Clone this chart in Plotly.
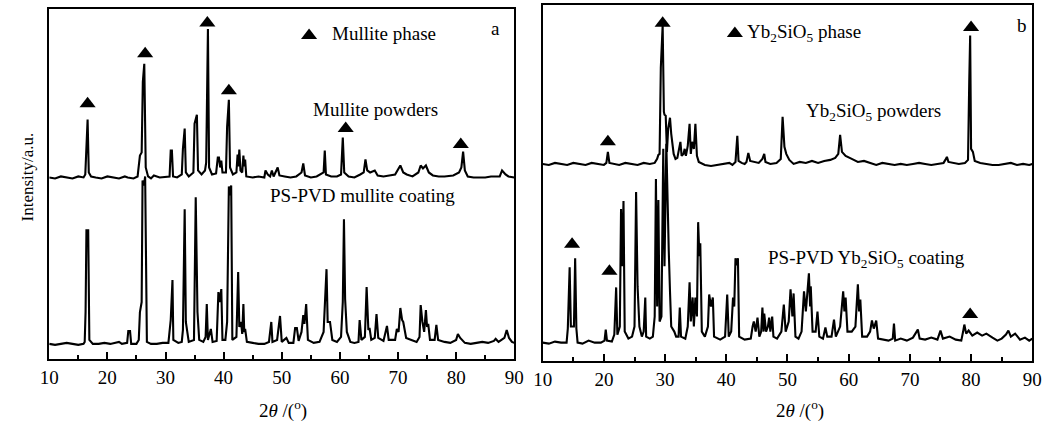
import plotly.graph_objects as go

# ---------------- Panel a : mullite ----------------
a_powder_x = [10, 11, 12, 13, 14, 15, 15.9, 16.2, 16.4, 16.6, 16.8, 17.2, 18, 19, 20, 21, 22, 23, 23.5, 24.5,
              25.2, 25.6, 25.9, 26.1, 26.35, 26.6, 27, 27.5, 28, 29, 30, 30.7, 30.9, 31.1, 31.3, 32, 32.8, 33.0,
              33.3, 33.5, 34, 34.8, 35.0, 35.4, 35.6, 36.2, 36.8, 37.0, 37.3, 37.5, 38, 38.7, 39.0, 39.2, 39.4,
              39.6, 39.8, 40.4, 40.6, 40.9, 41.1, 41.6, 42.2, 42.4, 42.55, 42.7, 42.9, 43.2, 43.4, 43.55, 43.7,
              43.9, 45, 46, 47, 47.2, 47.6, 48, 48.3, 48.6, 49.3, 49.6, 50.5, 51.5, 52.5, 53.4, 53.7, 54, 55, 56,
              57.2, 57.4, 57.6, 58.5, 59.5, 60.2, 60.5, 60.75, 61.5, 62.5, 63.5, 64.1, 64.4, 64.7, 65.2, 66, 66.5,
              67.5, 68.5, 69.5, 70.4, 70.9, 71.5, 72.5, 73.5, 73.9, 74.3, 74.8, 75.3, 76, 77, 78, 79.5, 80.5, 80.9,
              81.2, 81.5, 82, 83, 84, 85, 86, 87.5, 87.9, 88.5, 89, 90]
a_powder_y = [185, 184, 186, 185, 184, 186, 185, 188, 222, 243, 190, 186, 185, 184, 186, 185, 184, 186, 185, 184,
              186, 207, 210, 281, 299, 195, 186, 184, 187, 185, 186, 186, 212, 212, 186, 185, 188, 214,
              234, 190, 186, 190, 239, 248, 192, 188, 192, 200, 334, 195, 188, 189, 205, 205, 195,
              202, 190, 190, 236, 263, 195, 188, 190, 208, 196, 213, 192, 190, 207, 196, 203,
              186, 185, 186, 185, 192, 188, 186, 192, 186, 195, 187, 186, 185, 186, 190, 199, 187, 185, 186,
              190, 212, 188, 186, 186, 188, 225, 190, 186, 185, 188, 190, 203, 192, 190, 192, 187,
              186, 187, 188, 197, 190, 188, 186, 190, 197, 194, 197, 190, 187, 186, 186, 187, 190, 195,
              211, 192, 186, 185, 185, 185, 186, 186, 192, 188, 186, 185]

a_coat_x = [10, 11, 12, 13, 14, 15, 15.9, 16.1, 16.25, 16.4, 16.55, 16.7, 16.9, 17.5, 18.5, 19.5, 20.5, 21.5, 22,
            22.5, 23.4, 23.6, 23.9, 24.1, 25, 25.4, 25.6, 25.9, 26.05, 26.3, 26.5, 26.8, 27.5, 28.5, 29.5, 30.5,
            30.9, 31.2, 31.35, 32.2, 32.8, 33.0, 33.3, 33.5, 34, 34.9, 35.2, 35.5, 35.8, 36.5, 36.9, 37.1, 37.3,
            37.8, 38.1, 38.8, 39.1, 39.3, 39.6, 39.8, 40.3, 40.6, 40.9, 41.1, 41.3, 41.5, 42.2, 42.5, 42.7, 43.0,
            43.2, 43.4, 43.55, 43.7, 44, 45, 46, 47, 47.8, 48.2, 48.4, 49.2, 49.7, 50, 50.8, 51.2, 52, 52.3, 52.6,
            52.9, 53.4, 53.7, 53.9, 54.2, 54.5, 55.5, 56.5, 57.2, 57.4, 57.7, 57.9, 58.3, 58.7, 59.5, 60.2, 60.5,
            60.7, 60.9, 61.2, 61.8, 62.5, 63.2, 63.4, 63.7, 64.3, 64.6, 64.9, 65.1, 65.4, 66.0, 66.3, 66.6, 67.5,
            68.1, 68.4, 69.5, 69.8, 70.1, 70.4, 70.7, 70.9, 71.4, 72.3, 73.2, 73.7, 73.9, 74.2, 74.5, 74.8, 75.0,
            75.2, 75.5, 76.3, 76.6, 76.9, 78, 79, 80, 80.3, 80.7, 81.5, 82.5, 83.5, 84.5, 85.5, 86.5, 86.8, 87.3,
            88.3, 88.7, 89.1, 89.6, 90]
a_coat_y = [18, 17, 18, 19, 18, 17, 18, 20, 50, 133, 127, 133, 22, 18, 18, 19, 18, 19, 20,
            18, 19, 31, 31, 18, 18, 22, 50, 60, 182, 177, 186, 20, 18, 18, 19, 19,
            42, 82, 22, 19, 20, 32, 153, 40, 20, 22, 165, 50, 22, 20, 25, 58, 22,
            33, 20, 21, 70, 60, 73, 22, 22, 40, 176, 167, 177, 22, 25, 90, 35, 40,
            28, 58, 30, 33, 20, 19, 18, 18, 20, 40, 20, 22, 46, 20, 24, 19, 19, 34, 34,
            21, 30, 47, 38, 58, 22, 19, 20, 30, 58, 93, 40, 40, 22, 20, 25, 60,
            143, 63, 30, 20, 19, 20, 42, 22, 25, 75, 32, 34, 22, 24, 48, 24, 21,
            36, 22, 22, 33, 30, 54, 42, 40, 24, 22, 20, 25, 57, 40, 30, 52, 35,
            38, 22, 22, 37, 22, 20, 19, 22, 28, 24, 19, 18, 19, 20, 19, 21, 23, 20,
            24, 32, 24, 20, 19]

a_tri_powder_x = [16.6, 26.5, 37.2, 40.9, 61.0, 80.8]
a_tri_powder_y = [259, 309, 340, 272, 234, 218]

# ---------------- Panel b : Yb2SiO5 ----------------
b_powder_x = [10, 11, 12, 13, 14, 15, 16, 17, 18, 19, 20, 20.4, 20.65, 20.9, 21.5, 22.5, 23.5, 24.5, 25.5, 26.5,
              27.5, 28.3, 28.7, 28.9, 29.1, 29.3, 29.6, 29.8, 29.9, 30.1, 30.3, 30.5, 30.8, 31.0, 31.2, 31.4, 31.7,
              32.0, 32.5, 32.7, 33.0, 33.2, 33.4, 33.7, 34.0, 34.2, 34.4, 34.7, 34.95, 35.2, 35.5, 36.5, 37.5,
              38.5, 39.5, 40.5, 41.0, 41.5, 41.8, 42.0, 42.5, 43.0, 43.3, 43.6, 43.9, 44.8, 45.3, 45.9, 46.2, 46.4,
              47.2, 48.2, 48.9, 49.2, 49.5, 49.8, 50.3, 51.0, 52, 53, 54, 55, 56, 57, 57.8, 58.3, 58.6, 58.9, 59.5,
              60.5, 61.5, 62.5, 63.5, 64.5, 65.5, 66.5, 67.5, 68.5, 69.5, 70.5, 71.5, 72.5, 73.5, 74.5, 75.5, 75.8,
              76.05, 76.3, 77, 78, 79.0, 79.5, 79.7, 79.85, 80.0, 80.3, 80.6, 81.5, 82.5, 83.5, 84.5, 85.5, 86.5,
              87.5, 88.5, 89.5, 90]
b_powder_y = [200, 199, 201, 200, 199, 201, 200, 199, 201, 200, 199, 201, 212, 201, 200, 199, 201, 200, 199, 201,
              200, 201, 205, 209, 210, 296, 338, 252, 249, 248, 212, 235, 246, 230, 219, 210, 205,
              206, 222, 208, 210, 215, 208, 218, 240, 210, 222, 215, 240, 208, 202, 199, 198,
              199, 200, 201, 199, 202, 228, 203, 201, 200, 202, 211, 203, 202, 201, 205, 210, 202,
              200, 201, 205, 247, 217, 210, 204, 200, 202, 201, 203, 201, 203, 204, 206, 210, 229, 212, 208,
              205, 202, 203, 201, 199, 201, 200, 199, 200, 199, 200, 201, 200, 199, 200, 201, 204,
              207, 202, 201, 200, 201, 204, 282, 328, 215, 212, 203, 201, 200, 199, 199, 200, 201,
              199, 200, 199, 200]

b_coat_x = [10, 11, 12, 13, 13.9, 14.1, 14.4, 14.6, 15.1, 15.3, 15.5, 15.7, 16.5, 17.5, 18.5, 19.5, 20.1, 20.3,
            20.5, 21.3, 21.7, 22.0, 22.2, 22.6, 22.8, 23.0, 23.2, 23.4, 24, 24.6, 25.0, 25.26, 25.5, 25.8, 26.2,
            26.5, 26.76, 26.9, 27.5, 28.0, 28.3, 28.5, 28.7, 28.9, 29.1, 29.4, 29.7, 29.9, 30.2, 30.5, 30.6, 30.8,
            31.0, 31.5, 31.8, 32.2, 32.4, 32.6, 33.3, 33.7, 34.0, 34.2, 34.5, 34.7, 34.95, 35.2, 35.4, 35.6,
            35.75, 36.0, 36.5, 37.0, 37.2, 37.5, 37.8, 38.0, 39.0, 39.8, 40.15, 40.4, 40.8, 41.1, 41.3, 41.5,
            41.7, 41.9, 42.1, 43.0, 44.0, 44.3, 44.5, 44.8, 45.1, 45.4, 45.7, 45.9, 46.1, 46.2, 46.5, 46.8, 47.0,
            47.2, 47.5, 47.7, 48.3, 49.0, 49.4, 49.7, 50.2, 50.5, 50.8, 51.0, 51.3, 51.8, 52.3, 52.7, 53.0, 53.2,
            53.5, 53.7, 53.8, 54.1, 54.6, 54.9, 55.2, 55.8, 56.2, 56.5, 57.2, 57.6, 57.9, 58.6, 59.1, 59.3, 59.5,
            59.8, 60.5, 61.1, 61.5, 61.7, 61.9, 62.2, 63.0, 63.5, 63.8, 64.1, 64.5, 64.8, 65.5, 66.5, 67.2, 67.4,
            67.6, 68.5, 69.5, 70.5, 71.3, 71.6, 72.5, 73.5, 74.5, 75.0, 75.4, 76.5, 77.5, 78.4, 78.7, 78.9, 79.2,
            79.6, 80.2, 81.0, 81.8, 82.5, 83.5, 84.3, 85.0, 85.7, 86.1, 86.5, 87.2, 88.0, 88.8, 89.5, 90]
b_coat_y = [22, 21, 23, 22, 22, 36, 97, 38, 38, 106, 36, 22, 21, 24, 22, 22, 24, 35,
            24, 23, 30, 77, 30, 38, 155, 98, 163, 33, 26, 28, 38, 172, 78, 38, 28,
            33, 67, 28, 26, 28, 48, 185, 58, 164, 43, 48, 215, 98, 220, 118, 113, 73,
            38, 33, 28, 28, 57, 28, 26, 38, 82, 43, 67, 38, 67, 48, 142, 108,
            121, 33, 28, 38, 70, 58, 67, 28, 25, 28, 70, 28, 33, 67, 58, 106,
            99, 106, 28, 25, 26, 38, 43, 33, 47, 28, 33, 57, 33, 51, 33, 38, 47,
            33, 48, 28, 26, 33, 60, 33, 43, 75, 48, 71, 28, 26, 33, 73, 53, 68,
            91, 58, 78, 33, 33, 53, 28, 26, 37, 28, 28, 45, 28, 38, 73, 53, 67,
            33, 33, 38, 80, 53, 65, 28, 28, 33, 44, 36, 44, 26, 25, 24, 26, 41,
            24, 26, 24, 27, 35, 26, 25, 27, 25, 34, 26, 28, 25, 24, 33, 40, 31,
            34, 29, 32, 29, 31, 27, 24, 26, 30, 34, 28, 31, 25, 27, 24, 26]

b_tri_powder_x = [20.65, 29.6, 80.0]
b_tri_powder_y = [222, 340, 336]
b_tri_coat_x = [14.8, 20.9, 79.85]
b_tri_coat_y = [120, 93, 50]

x_ticks = [10, 20, 30, 40, 50, 60, 70, 80, 90]

FONT = "Liberation Serif"
LINE = dict(color="black", width=2.1)
TRI = dict(symbol="triangle-up", size=14, color="black")

fig = go.Figure()
fig.add_trace(go.Scatter(x=a_powder_x, y=a_powder_y, mode="lines", line=LINE, xaxis="x", yaxis="y"))
fig.add_trace(go.Scatter(x=a_coat_x, y=a_coat_y, mode="lines", line=LINE, xaxis="x", yaxis="y"))
fig.add_trace(go.Scatter(x=a_tri_powder_x, y=a_tri_powder_y, mode="markers", marker=TRI, xaxis="x", yaxis="y"))
fig.add_trace(go.Scatter(x=[54.7], y=[327.5], mode="markers", marker=TRI, xaxis="x", yaxis="y"))

fig.add_trace(go.Scatter(x=b_powder_x, y=b_powder_y, mode="lines", line=LINE, xaxis="x2", yaxis="y2"))
fig.add_trace(go.Scatter(x=b_coat_x, y=b_coat_y, mode="lines", line=LINE, xaxis="x2", yaxis="y2"))
fig.add_trace(go.Scatter(x=b_tri_powder_x, y=b_tri_powder_y, mode="markers", marker=TRI, xaxis="x2", yaxis="y2"))
fig.add_trace(go.Scatter(x=b_tri_coat_x, y=b_tri_coat_y, mode="markers", marker=TRI, xaxis="x2", yaxis="y2"))
fig.add_trace(go.Scatter(x=[41.4], y=[330], mode="markers", marker=TRI, xaxis="x2", yaxis="y2"))

W, H = 1056, 421


def xax(d0, d1, anchor):
    return dict(domain=[d0 / W, d1 / W], range=[10, 90], tickvals=x_ticks, anchor=anchor,
                ticks="inside", ticklen=7, tickwidth=1.5, tickcolor="black",
                minor=dict(dtick=5, tick0=10, ticks="inside", ticklen=4, tickwidth=1.5, tickcolor="black"),
                showline=True, linewidth=2, linecolor="black", mirror=True,
                showgrid=False, zeroline=False, tickfont=dict(family=FONT, size=19, color="black"))


def yax(top, bottom, r, anchor):
    return dict(domain=[1 - bottom / H, 1 - top / H], range=r, showticklabels=False, ticks="",
                anchor=anchor, showline=True, linewidth=2, linecolor="black", mirror=True,
                showgrid=False, zeroline=False)


fig.update_layout(
    width=W, height=H, margin=dict(l=0, r=0, t=0, b=0),
    paper_bgcolor="white", plot_bgcolor="white", showlegend=False,
    xaxis=xax(40, 514, "y"), yaxis=yax(9, 359, [2.85, 354], "x"),
    xaxis2=xax(543, 1042, "y2"), yaxis2=yax(5, 361, [3.7, 358.3], "x2"),
)

tf = dict(family=FONT, size=19, color="black")
ann = [
    dict(x=58.3, y=329, xref="x", yref="y", text="Mullite phase", xanchor="left", font=tf),
    dict(x=86.75, y=334, xref="x", yref="y", text="a", font=tf),
    dict(x=66.2, y=253, xref="x", yref="y", text="Mullite powders", font=tf),
    dict(x=63.95, y=167, xref="x", yref="y", text="PS-PVD mullite coating", font=tf),
    dict(x=43.1, y=330, xref="x2", yref="y2", text="Yb<sub>2</sub>SiO<sub>5</sub> phase", xanchor="left", font=tf),
    dict(x=88.3, y=338, xref="x2", yref="y2", text="b", font=tf),
    dict(x=64.1, y=252, xref="x2", yref="y2", text="Yb<sub>2</sub>SiO<sub>5</sub> powders", font=tf),
    dict(x=62.85, y=105, xref="x2", yref="y2", text="PS-PVD Yb<sub>2</sub>SiO<sub>5</sub> coating", font=tf),
    dict(x=18.3 / W, y=1 - 176.5 / H, xref="paper", yref="paper", text="Intensity/a.u.", textangle=-90,
         font=dict(family=FONT, size=17, color="black")),
    dict(x=278 / W, y=1 - 409 / H, xref="paper", yref="paper", text="2<i>θ</i> /(<sup>o</sup>)",
         font=dict(family=FONT, size=19, color="black")),
    dict(x=805 / W, y=1 - 409 / H, xref="paper", yref="paper", text="2<i>θ</i> /(<sup>o</sup>)",
         font=dict(family=FONT, size=19, color="black")),
]
for a in ann:
    a.setdefault("showarrow", False)
    a.setdefault("xanchor", "center")
    a.setdefault("yanchor", "middle")
fig.update_layout(annotations=ann)

fig.write_html("out.html", config={"displayModeBar": False},
               post_script="document.body.style.margin='0px';")
